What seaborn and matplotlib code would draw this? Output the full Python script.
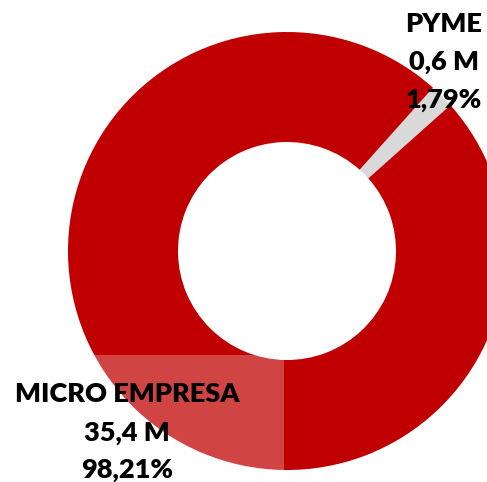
import matplotlib
matplotlib.use("Agg")
import matplotlib.pyplot as plt
import matplotlib.patches as mpatches
import seaborn as sns

# datos
categorias = ["PYME", "MICRO EMPRESA"]
millones = ["0,6 M", "35,4 M"]
porcentajes = [1.79, 98.21]
colores = ["#D9D9D9", "#C00000"]

sns.set_theme(style="white")
plt.rcParams['font.family'] = ['Lato', 'DejaVu Sans']

fig = plt.figure(figsize=(4.87, 4.82), dpi=100)
ax = fig.add_axes([0, 0, 1, 1])

# anillo (empieza arriba a la derecha, sentido horario)
ax.pie(porcentajes, colors=colores, center=(287, 231), radius=219,
       startangle=48.2, counterclock=False,
       wedgeprops=dict(width=110, linewidth=0), frame=True)
ax.set_xlim(0, 487)
ax.set_ylim(0, 482)
ax.set_aspect('equal')
ax.axis('off')

def fmt(p):
    return f"{p:.2f}%".replace('.', ',')

estilo = dict(ha='center', va='center', fontsize=19.5, fontweight='heavy',
              color='black', zorder=4)

# etiqueta PYME
ax.text(444, 482 - 24, categorias[0], **estilo)
ax.text(444, 482 - 62, millones[0], **estilo)
ax.text(444, 482 - 100, fmt(porcentajes[0]), **estilo)

# etiqueta MICRO EMPRESA con fondo semitransparente
ax.add_patch(mpatches.Rectangle((-40, 0), 324, 127, facecolor='white',
                                alpha=0.27, linewidth=0, zorder=3))
ax.text(127, 482 - 394, categorias[1], **estilo)
ax.text(127, 482 - 433, millones[1], **estilo)
ax.text(127, 482 - 470, fmt(porcentajes[1]), **estilo)

fig.savefig("out.png", dpi=100)
